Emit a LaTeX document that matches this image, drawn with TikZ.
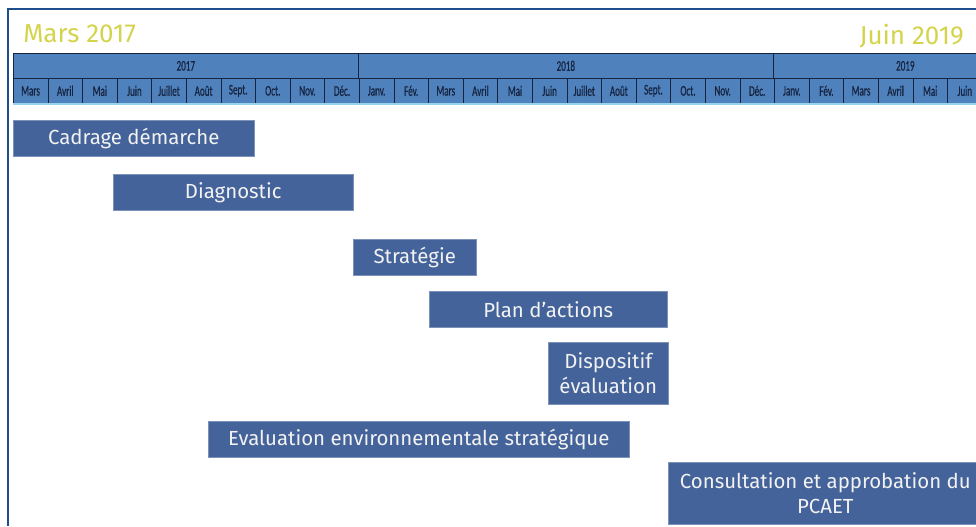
\documentclass[tikz,border=0pt]{standalone}
\usepackage{fontspec}
\setmainfont{Fira Sans}
\newfontfamily\narrowfont[FakeStretch=0.62,FakeBold=0.6]{Carlito}
\usepackage{tikz}

\definecolor{barblue}{RGB}{68,99,154}
\definecolor{headblue}{RGB}{79,129,189}
\definecolor{gridnavy}{RGB}{22,36,64}
\definecolor{frameblue}{RGB}{31,78,140}
\definecolor{titleyellow}{RGB}{212,212,76}
\definecolor{rulecyan}{RGB}{150,210,238}

\begin{document}
\begin{tikzpicture}[x=0.75pt,y=0.75pt,yscale=-1,xscale=1,
  bar/.style={fill=barblue, draw=barblue!70!white, line width=0.4pt, text=white!95!black,
    anchor=north west, inner sep=0pt, align=center, font=\fontsize{15.3}{18.5}\selectfont},
  headcell/.style={fill=headblue, draw=gridnavy, line width=0.5pt, anchor=north west,
    inner sep=0pt, text=gridnavy, font=\narrowfont\fontsize{11}{12}\selectfont},
  title/.style={text=titleyellow, inner sep=0pt, font=\fontsize{19.5}{21}\selectfont}]
\useasboundingbox (0,0) rectangle (976,526);
\clip (0,0) rectangle (976,526);

%Frame
\draw [frameblue, line width=1.5pt] (8,526) -- (8,9) -- (976,9) ;

% Title Nodes
\node (debut) [title, anchor=west] at (23,34) {Mars 2017};
\node (fin) [title, anchor=east] at (964,36) {Juin 2019};

%Years
\node (y2017) [headcell, minimum width=258.75pt, minimum height=18.75pt] at (13,53) {2017};
\node (y2018) [headcell, minimum width=311.25pt, minimum height=18.75pt] at (358,53) {2018};
\node (y2019) [headcell, minimum width=198pt, minimum height=18.75pt] at (773,53) {2019};

%Months
\foreach \m [count=\i from 0] in {Mars,Avril,Mai,Juin,Juillet,Août,Sept.,Oct.,Nov.,Déc.,
  Janv.,Fév.,Mars,Avril,Mai,Juin,Juillet,Août,Sept.,Oct.,Nov.,Déc.,
  Janv.,Fév.,Mars,Avril,Mai,Juin}
  \node (m\i) [headcell, minimum width=25.95pt, minimum height=18.75pt] at ({13+\i*34.6},78) {\m};
\draw [rulecyan, line width=1pt] (13,104) -- (976,104) ;

% Bars
\node (cadrage) [bar, minimum width=180.75pt, minimum height=27pt] at (13,120) {Cadrage démarche};
\node (diagnostic) [bar, minimum width=180pt, minimum height=27pt] at (113,174) {Diagnostic};
\node (strategie) [bar, minimum width=92.25pt, minimum height=27pt] at (353,239) {Stratégie};
\node (plan) [bar, minimum width=178.5pt, minimum height=27pt] at (429,291) {Plan d’actions};
\node (dispositif) [bar, minimum width=90pt, minimum height=46.5pt] at (548,342) {Dispositif\\évaluation};
\node (evaluation) [bar, minimum width=315.75pt, minimum height=27pt] at (208,421) {Evaluation environnementale stratégique};
\node (consultation) [bar, minimum width=235.5pt, minimum height=46.5pt] at (668,462) {Consultation et approbation du\\PCAET};

\end{tikzpicture}
\end{document}
